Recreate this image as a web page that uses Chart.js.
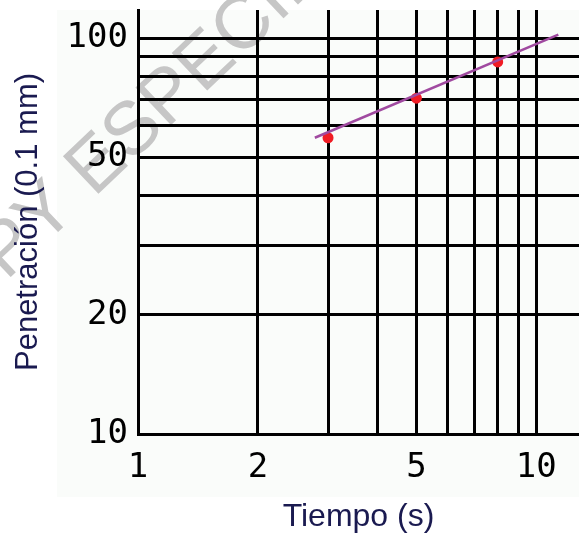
<!DOCTYPE html>
<html>
<head>
<meta charset="utf-8">
<script src="https://cdn.jsdelivr.net/npm/chart.js@4"></script>
<style>
html, body { margin: 0; padding: 0; background: #fff; }
</style>
</head>
<body>
<canvas id="grafico" width="579" height="533"></canvas>
<script>
// valores (escala log-log)
const tiempo = [3, 5, 8];
const penetracion = [56, 70.5, 87];
const ajusteX = [2.78, 11.36];
const ajusteY = [56, 102];
const gridX = [1, 2, 3, 4, 5, 6, 7, 8, 9, 10];
const gridY = [10, 20, 30, 40, 50, 60, 70, 80, 90, 100];
const etiquetasX = [1, 2, 5, 10];
const etiquetasY = [10, 20, 50, 100];

const fondo = {
    id: 'fondo',
    beforeDraw(chart) {
        const c = chart.ctx;
        c.save();
        c.fillStyle = '#fafcfa';
        c.fillRect(57, 10, 522, 487);
        // marca de agua
        c.fillStyle = '#c6c6c6';
        c.font = '75px "Liberation Sans", Arial, sans-serif';
        c.translate(94, 198);
        c.rotate(-43.5 * Math.PI / 180);
        c.textBaseline = 'alphabetic';
        c.textAlign = 'right';
        c.fillText('COPY ', 0, 0);
        c.textAlign = 'left';
        c.fillText('ESPECIMEN', 0, 0);
        c.restore();
    }
};

// quita el margen que Chart.js reserva para las etiquetas extremas
function sinMargen(s) {
    s.paddingTop = 0;
    s.paddingBottom = 0;
    s.paddingLeft = 0;
    s.paddingRight = 0;
}

const ctx = document.getElementById('grafico').getContext('2d');
const grafico = new Chart(ctx, {
    type: 'scatter',
    data: {
        datasets: [{
            label: 'ajuste',
            data: ajusteX.map((x, i) => ({ x: x, y: ajusteY[i] })),
            showLine: true,
            borderColor: '#a04aa0',
            borderWidth: 2.5,
            pointRadius: 0,
            order: 0
        }, {
            label: 'medidas',
            data: tiempo.map((x, i) => ({ x: x, y: penetracion[i] })),
            pointRadius: 5.5,
            pointBackgroundColor: '#f01c24',
            pointBorderWidth: 0,
            order: 1
        }]
    },
    options: {
        responsive: false,
        animation: false,
        layout: { autoPadding: false, padding: { top: 10, right: 0, left: 0, bottom: 0 } },
        plugins: {
            legend: { display: false },
            tooltip: { enabled: false }
        },
        scales: {
            x: {
                type: 'logarithmic',
                min: 1,
                max: 12.8,
                afterBuildTicks: s => { s.ticks = gridX.map(v => ({ value: v })); },
                afterFit: s => { s.height = 99; sinMargen(s); },
                grid: { color: '#000', lineWidth: 3, drawTicks: false },
                border: { color: '#000', width: 3 },
                ticks: {
                    autoSkip: false,
                    maxRotation: 0,
                    padding: 14,
                    color: '#000',
                    font: { family: 'DejaVu Sans Mono', size: 34 },
                    callback: v => etiquetasX.includes(v) ? String(v) : ''
                },
                title: {
                    display: true,
                    text: 'Tiempo (s)',
                    color: '#1a1a50',
                    font: { family: 'Liberation Sans', size: 32, lineHeight: 1 },
                    padding: { top: 0, bottom: 0 }
                }
            },
            y: {
                type: 'logarithmic',
                min: 10,
                max: 117.7,
                afterBuildTicks: s => { s.ticks = gridY.map(v => ({ value: v })); },
                afterFit: s => { s.width = 138; sinMargen(s); },
                grid: { color: '#000', lineWidth: 3, drawTicks: false },
                border: { color: '#000', width: 3 },
                ticks: {
                    autoSkip: false,
                    padding: 10,
                    color: '#000',
                    font: { family: 'DejaVu Sans Mono', size: 34 },
                    callback: v => etiquetasY.includes(v) ? String(v) : ''
                },
                title: {
                    display: true,
                    text: 'Penetración (0.1 mm)',
                    color: '#1a1a50',
                    font: { family: 'Liberation Sans', size: 31, lineHeight: 1 },
                    padding: { top: 13, bottom: 0 }
                }
            }
        }
    },
    plugins: [fondo]
});
</script>
</body>
</html>
